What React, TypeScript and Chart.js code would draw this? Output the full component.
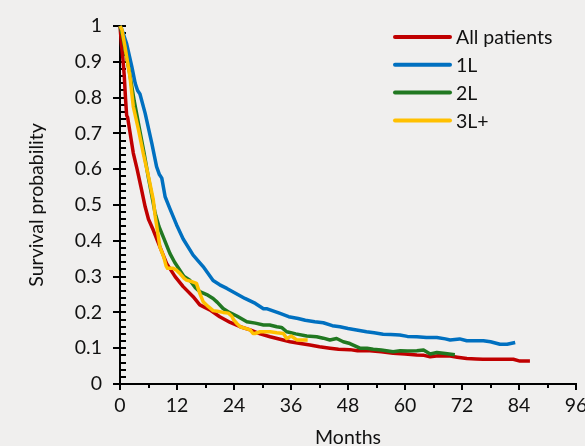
import React, { useEffect, useRef } from "react";
import { Chart, registerables } from "chart.js";

Chart.register(...registerables);

// ---- Data ----
const allMonths = [0, 0.3, 0.6, 0.9, 1.15, 1.4, 1.6, 2.8, 3.6, 4.4, 5.3, 6, 7, 8.4, 9.8, 11.6, 13.3, 15.4, 16.8, 18.9, 21, 23.2, 25.3, 27.4, 29.5, 31.6, 33.7, 35.8, 38, 40, 42, 44.2, 46, 48.4, 50, 52.6, 55, 57.5, 60, 62.5, 64, 65.3, 67, 69.5, 71, 73, 75, 76.4, 80, 82.8, 84.2, 86.3];
const allSurv = [1, 0.95, 0.91, 0.86, 0.8, 0.75, 0.745, 0.645, 0.6, 0.551, 0.495, 0.46, 0.43, 0.383, 0.337, 0.3, 0.272, 0.244, 0.221, 0.207, 0.188, 0.172, 0.16, 0.151, 0.14, 0.132, 0.125, 0.118, 0.113, 0.109, 0.104, 0.1, 0.097, 0.096, 0.093, 0.093, 0.09, 0.086, 0.084, 0.081, 0.08, 0.076, 0.079, 0.078, 0.075, 0.071, 0.07, 0.069, 0.069, 0.069, 0.064, 0.064];

const firstLineMonths = [0, 0.4, 1.4, 2.5, 3.2, 3.7, 4.2, 5.3, 6.7, 7.7, 8.3, 8.8, 9.5, 10.5, 11.9, 13.3, 15.4, 17.5, 19.6, 21, 22.5, 24.5, 26.3, 28.5, 30.2, 31, 33.7, 35.5, 37.5, 39, 41, 42.8, 44.7, 46.3, 48, 49.8, 51.9, 53.5, 55.4, 57, 58.9, 60.5, 62.5, 64.5, 66.7, 68.5, 69.5, 71.5, 73, 76.5, 78, 80, 81.5, 83.2];
const firstLineSurv = [1, 0.99, 0.95, 0.886, 0.84, 0.82, 0.81, 0.756, 0.672, 0.607, 0.585, 0.575, 0.523, 0.49, 0.445, 0.405, 0.36, 0.328, 0.289, 0.277, 0.267, 0.252, 0.239, 0.225, 0.21, 0.21, 0.197, 0.188, 0.183, 0.178, 0.174, 0.171, 0.163, 0.16, 0.155, 0.151, 0.146, 0.143, 0.139, 0.138, 0.137, 0.133, 0.132, 0.13, 0.13, 0.126, 0.123, 0.126, 0.121, 0.121, 0.118, 0.111, 0.111, 0.116];

const secondLineMonths = [0, 0.5, 1, 2, 3, 4, 5, 6, 7, 7.4, 8.2, 9.1, 10.5, 11.5, 12.6, 13.5, 14.7, 15.8, 16.8, 18.5, 19.6, 20.5, 21.7, 23, 24.6, 26.7, 28.5, 30.2, 31.5, 33, 34, 35.1, 37, 39.3, 41.4, 42.8, 44.2, 45.6, 47, 48.4, 50.5, 52, 53.3, 55, 57.5, 59, 60.5, 62.5, 63.9, 65.3, 66.7, 68.5, 70.5];
const secondLineSurv = [1, 0.975, 0.94, 0.87, 0.79, 0.72, 0.65, 0.575, 0.505, 0.477, 0.44, 0.411, 0.365, 0.34, 0.318, 0.3, 0.29, 0.27, 0.258, 0.248, 0.239, 0.228, 0.211, 0.2, 0.19, 0.174, 0.17, 0.165, 0.165, 0.16, 0.158, 0.146, 0.14, 0.134, 0.132, 0.128, 0.123, 0.127, 0.118, 0.113, 0.1, 0.1, 0.097, 0.095, 0.09, 0.093, 0.092, 0.093, 0.095, 0.084, 0.088, 0.085, 0.082];

const thirdLineMonths = [0, 0.4, 1.05, 2.1, 2.8, 3.9, 4.9, 6, 7, 7.4, 8.4, 9.2, 9.7, 10, 11.2, 11.9, 12.6, 13.5, 14, 15.1, 16.1, 16.5, 16.8, 17.5, 18.6, 19.6, 20.5, 21.7, 22.8, 23.5, 23.9, 24.6, 25.3, 27.4, 28, 28.4, 29.5, 31.6, 33, 34.4, 35.1, 36.1, 37.2, 39.5];
const thirdLineSurv = [1, 0.99, 0.942, 0.858, 0.775, 0.71, 0.644, 0.579, 0.515, 0.47, 0.383, 0.355, 0.33, 0.323, 0.323, 0.318, 0.309, 0.295, 0.29, 0.286, 0.281, 0.265, 0.253, 0.23, 0.216, 0.205, 0.203, 0.2, 0.198, 0.19, 0.18, 0.169, 0.16, 0.151, 0.141, 0.141, 0.146, 0.146, 0.143, 0.141, 0.127, 0.134, 0.123, 0.123];

const seriesNames = ["All patients", "1L", "2L", "3L+"];
const seriesColors = ["#c00000", "#0070c0", "#217821", "#ffc000"];
const seriesDrawOrder = [3, 2, 1, 0];

const xTickValues = [0, 12, 24, 36, 48, 60, 72, 84, 96];
const xMinorStep = 6;
const yTickValues = [0, 0.1, 0.2, 0.3, 0.4, 0.5, 0.6, 0.7, 0.8, 0.9, 1];
const yTickLabels = ["0", "0.1", "0.2", "0.3", "0.4", "0.5", "0.6", "0.7", "0.8", "0.9", "1"];
const yMinorStep = 0.02;
const xTitle = "Months";
const yTitle = "Survival probability";

const FONT_FAMILY = "Lato";
const FONT_SIZE = 19.5;
const TEXT_COLOR = "#111111";

const toPoints = (ms: number[], ps: number[]) => ms.map((m, i) => ({ x: m, y: ps[i] }));

const xMinorValues: number[] = [];
for (let i = 1; i * xMinorStep < 96; i += 2) xMinorValues.push(i * xMinorStep);
const yMinorValues: number[] = [];
for (let i = 0; i <= Math.round(1 / yMinorStep); i++) yMinorValues.push(Math.round(i * yMinorStep * 1000) / 1000);

const insideLegend = {
  id: "insideLegend",
  afterDraw(chart: any) {
    const ctx = chart.ctx;
    const lineX1 = 395;
    const lineX2 = 450;
    const textX = 456;
    const rowY0 = 37;
    const rowStep = 27.8;
    ctx.save();
    ctx.font = `${FONT_SIZE}px ${FONT_FAMILY}`;
    ctx.textBaseline = "middle";
    ctx.textAlign = "left";
    chart.data.datasets.forEach((ds: any, i: number) => {
      const y = rowY0 + i * rowStep;
      ctx.strokeStyle = ds.borderColor;
      ctx.lineWidth = 4;
      ctx.lineCap = "round";
      ctx.beginPath();
      ctx.moveTo(lineX1, y);
      ctx.lineTo(lineX2, y);
      ctx.stroke();
      ctx.fillStyle = TEXT_COLOR;
      ctx.fillText(ds.label, textX, y + 1);
    });
    ctx.restore();
  },
};

export default function App() {
  const canvasRef = useRef<HTMLCanvasElement>(null);

  useEffect(() => {
    const seriesData = [
      toPoints(allMonths, allSurv),
      toPoints(firstLineMonths, firstLineSurv),
      toPoints(secondLineMonths, secondLineSurv),
      toPoints(thirdLineMonths, thirdLineSurv),
    ];
    const font = { family: FONT_FAMILY, size: FONT_SIZE };
    const chart = new Chart(canvasRef.current as HTMLCanvasElement, {
      type: "line",
      data: {
        datasets: seriesData.map((d, i) => ({
          label: seriesNames[i],
          data: d,
          borderColor: seriesColors[i],
          backgroundColor: seriesColors[i],
          borderWidth: 3.5,
          pointRadius: 0,
          tension: 0,
          clip: false as any,
          borderJoinStyle: "round" as const,
          order: seriesDrawOrder[i],
          xAxisID: "x",
          yAxisID: "y",
        })),
      },
      options: {
        responsive: false,
        animation: false,
        layout: { padding: { top: 26, right: 9, left: 0, bottom: 0 } },
        plugins: {
          legend: { display: false },
          tooltip: { enabled: false },
        },
        scales: {
          x: {
            type: "linear",
            position: "bottom",
            weight: 1,
            min: 0,
            max: 96,
            afterBuildTicks: (s: any) => {
              s.ticks = xTickValues.map((v) => ({ value: v }));
            },
            afterFit: (s: any) => {
              s.height = 62;
              s.paddingLeft = 0;
              s.paddingRight = 0;
            },
            grid: {
              display: true,
              drawOnChartArea: false,
              drawTicks: true,
              tickLength: 6,
              color: "#000000",
              lineWidth: 2,
            },
            border: { display: true, color: "#000", width: 2 },
            ticks: {
              font,
              color: TEXT_COLOR,
              padding: 4,
              maxRotation: 0,
              autoSkip: false,
              callback: (v: any) => String(v),
            },
            title: {
              display: true,
              text: xTitle,
              font,
              color: TEXT_COLOR,
              padding: { top: 0, bottom: -3 },
            },
          },
          xMinor: {
            type: "linear",
            position: "bottom",
            weight: 0,
            min: 0,
            max: 96,
            afterBuildTicks: (s: any) => {
              s.ticks = xMinorValues.map((v) => ({ value: v }));
            },
            afterFit: (s: any) => {
              s.height = 0;
              s.paddingLeft = 0;
              s.paddingRight = 0;
            },
            grid: {
              display: true,
              drawOnChartArea: false,
              drawTicks: true,
              tickLength: 4,
              color: "#000000",
              lineWidth: 2,
            },
            border: { display: false },
            ticks: { display: false, autoSkip: false },
          },
          y: {
            type: "linear",
            position: "left",
            weight: 1,
            min: 0,
            max: 1,
            afterBuildTicks: (s: any) => {
              s.ticks = yTickValues.map((v) => ({ value: v }));
            },
            afterFit: (s: any) => {
              s.width = 120;
              s.paddingTop = 0;
              s.paddingBottom = 0;
            },
            grid: {
              display: true,
              drawOnChartArea: false,
              drawTicks: true,
              tickLength: 7,
              color: "#000000",
              lineWidth: 2,
            },
            border: { display: true, color: "#000", width: 2 },
            ticks: {
              font,
              color: TEXT_COLOR,
              padding: 11,
              autoSkip: false,
              callback: (v: any) => {
                const idx = yTickValues.findIndex((t) => Math.abs(t - v) < 1e-9);
                return idx >= 0 ? yTickLabels[idx] : "";
              },
            },
            title: {
              display: true,
              text: yTitle,
              font,
              color: TEXT_COLOR,
              padding: { top: 25, bottom: 0 },
            },
          },
          yMinor: {
            type: "linear",
            position: "left",
            weight: 0,
            min: 0,
            max: 1,
            afterBuildTicks: (s: any) => {
              s.ticks = yMinorValues.map((v) => ({ value: v }));
            },
            afterFit: (s: any) => {
              s.width = 0;
              s.paddingTop = 0;
              s.paddingBottom = 0;
            },
            grid: {
              display: true,
              drawOnChartArea: false,
              drawTicks: true,
              tickLength: -6,
              color: "#000000",
              lineWidth: 2,
            },
            border: { display: false },
            ticks: { display: false, autoSkip: false },
          },
        },
      },
      plugins: [insideLegend],
    });
    return () => chart.destroy();
  }, []);

  return (
    <div
      style={{
        position: "fixed",
        left: 0,
        top: 0,
        width: 585,
        height: 446,
        background: "#f0efee",
        overflow: "hidden",
      }}
    >
      <canvas ref={canvasRef} width={585} height={446} style={{ display: "block" }} />
    </div>
  );
}
